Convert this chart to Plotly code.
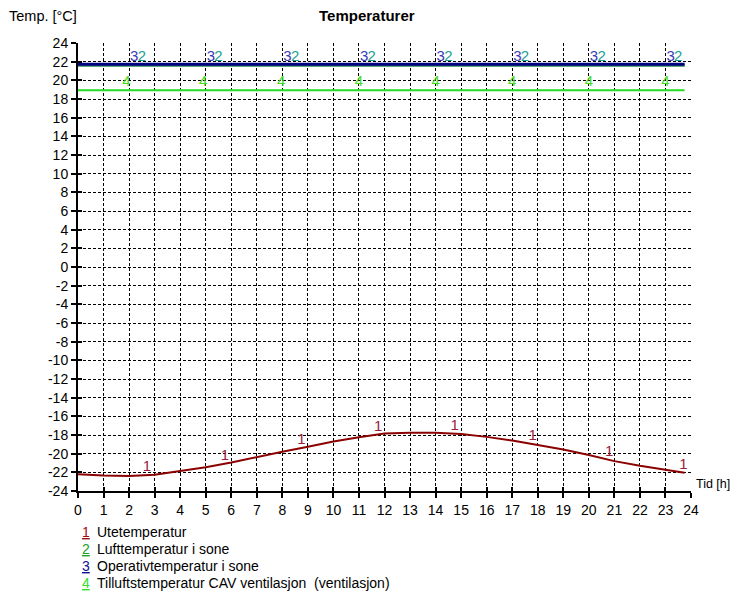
import numpy as np
import plotly.graph_objects as go

hours = [0, 1, 2, 3, 4, 5, 6, 7, 8, 9, 10, 11, 12, 13, 14, 15, 16, 17, 18, 19, 20, 21, 22, 23, 23.75]
ute = [-22.2, -22.35, -22.4, -22.25, -21.85, -21.45, -20.95, -20.35, -19.8, -19.25, -18.7, -18.25,
       -17.85, -17.75, -17.75, -17.9, -18.2, -18.6, -19.05, -19.55, -20.15, -20.8, -21.3, -21.7, -22.05]
luft = [21.62] * len(hours)
operativ = [21.72] * len(hours)
tilluft = [18.95] * len(hours)

names = ["Utetemperatur", "Lufttemperatur i sone", "Operativtemperatur i sone",
         "Tilluftstemperatur CAV ventilasjon  (ventilasjon)"]
line_colors = ["#8b0000", "#2e8b57", "#000080", "#22dd22"]
label_colors = ["#9b2040", "#20a090", "#3a3ab8", "#44dd22"]
legend_colors = ["#9b1010", "#20a020", "#101090", "#33dd33"]
label_hours = [
    [2.7, 5.75, 8.75, 11.75, 14.75, 17.8, 20.8, 23.7],
    [2.5, 5.5, 8.5, 11.5, 14.5, 17.5, 20.5, 23.5],
    [2.2, 5.2, 8.2, 11.2, 14.2, 17.2, 20.2, 23.2],
    [1.9, 4.9, 7.95, 11.0, 14.0, 17.0, 20.0, 23.0],
]
x_ticks = list(range(0, 25))
y_ticks = list(range(-24, 25, 2))

FONT = "Liberation Sans, Arial, sans-serif"
OFF = 8  # page body margin
W, H = 738 - OFF, 596 - OFF
ML, MR, MT, MB = 78 - OFF, W + OFF - 691, 43 - OFF, H + OFF - 491

fig = go.Figure()
series = [ute, luft, operativ, tilluft]
widths = [2, 3, 3, 2]
order = [3, 1, 2, 0]
for i in order:
    fig.add_trace(go.Scatter(x=hours, y=series[i], mode="lines",
                             line=dict(color=line_colors[i], width=widths[i]),
                             showlegend=False, hoverinfo="skip"))
for i in order:
    ly = np.interp(label_hours[i], hours, series[i])
    fig.add_trace(go.Scatter(x=label_hours[i], y=ly, mode="text", text=[str(i + 1)] * len(ly),
                             textposition="top center",
                             textfont=dict(family=FONT, size=15, color=label_colors[i]),
                             showlegend=False, hoverinfo="skip"))

axis_common = dict(showline=True, linecolor="black", linewidth=2, ticks="outside", ticklen=5,
                   tickwidth=2, tickcolor="black", showgrid=True, gridcolor="black", gridwidth=1,
                   griddash="3px,2px", zeroline=False, automargin=False,
                   tickfont=dict(family=FONT, size=14, color="black"), mirror=False)
fig.update_layout(
    width=W, height=H,
    margin=dict(l=ML, r=MR, t=MT, b=MB),
    paper_bgcolor="white", plot_bgcolor="white",
    font=dict(family=FONT, size=14, color="black"),
    xaxis=dict(range=[0, 24], tickvals=x_ticks, ticktext=[str(v) for v in x_ticks], **axis_common),
    yaxis=dict(range=[-24, 24], tickvals=y_ticks, ticktext=[str(v) for v in y_ticks], **axis_common),
    xaxis2=dict(overlaying="x", range=[0, 24], tickvals=x_ticks, showticklabels=False, ticks="inside",
                ticklen=4, tickwidth=2, tickcolor="black", showgrid=False, showline=False,
                zeroline=False, side="bottom"),
    yaxis2=dict(overlaying="y", range=[-24, 24], tickvals=y_ticks, showticklabels=False, ticks="inside",
                ticklen=4, tickwidth=2, tickcolor="black", showgrid=False, showline=False,
                zeroline=False, side="left"),
)
# dummy invisible trace to activate overlay axes
fig.add_trace(go.Scatter(x=[None], y=[None], xaxis="x2", yaxis="y2", showlegend=False, hoverinfo="skip"))

def px_x(p):
    return (p - 78) / (691 - 78)
def px_y(p):
    return (491 - p) / (491 - 43)

def note(text, x, y, xanchor="left", color="black", size=14):
    fig.add_annotation(text=text, x=px_x(x), y=px_y(y), xref="paper", yref="paper",
                       xanchor=xanchor, yanchor="middle", showarrow=False,
                       font=dict(family=FONT, size=size, color=color))

note("<b>Temperaturer</b>", 367, 16, xanchor="center", size=15)
note("Temp. [°C]", 7, 16, size=14.5)
note("Tid [h]", 694, 484, size=12.5)
for i, name in enumerate(names):
    yy = 532 + 17 * i
    note(f"<u>{i + 1}</u>", 80, yy, color=legend_colors[i])
    note(name, 95, yy)

fig.write_html("out.html")
